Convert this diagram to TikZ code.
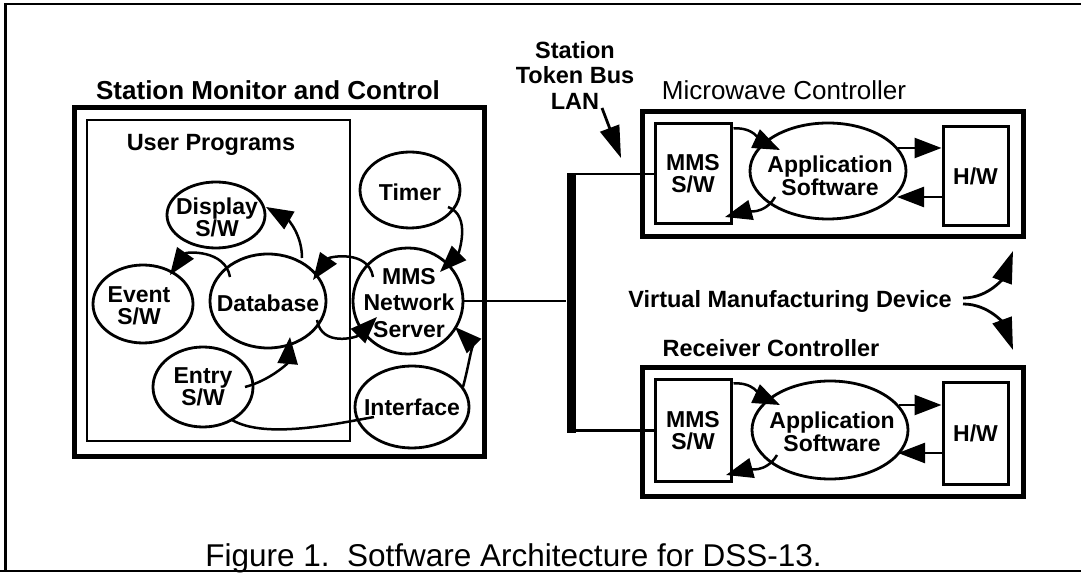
\documentclass[tikz,border=0pt]{standalone}
\usepackage{fontspec}
\setmainfont{Liberation Sans}
\usetikzlibrary{shapes.geometric,arrows.meta,calc}
\tikzset{
  bighead/.tip={Triangle[length=27pt,width=20pt]},
  hugehead/.tip={Triangle[length=32pt,width=20pt]}
}
\begin{document}
\begin{tikzpicture}[x=1pt,y=1pt,
  ell/.style={draw, ellipse, line width=2.8pt, inner sep=0pt},
  lbl/.style={font=\fontsize{23}{22}\selectfont\bfseries, align=center, inner sep=0pt},
  bigtitle/.style={font=\fontsize{26}{26}\selectfont\bfseries, inner sep=0pt, anchor=base},
  boldlbl/.style={font=\fontsize{23.5}{23.5}\selectfont\bfseries, inner sep=0pt, anchor=base},
  outerbox/.style={draw, rectangle, line width=5pt, inner sep=0pt},
  innerbox/.style={draw, rectangle, line width=3pt, inner sep=0pt},
  arr/.style={line width=2.5pt, arrows={-bighead}},
  bigarr/.style={line width=2.8pt, arrows={-hugehead}},
  wire/.style={line width=2.5pt}
]
\useasboundingbox (0,0) rectangle (1081,573);

% frame
\coordinate (f-tl) at (5.5,569);
\coordinate (f-bl) at (5.5,2);
\coordinate (f-tr) at (1081,569);
\coordinate (f-b0) at (0,2);
\coordinate (f-br) at (1081,2);
\draw[line width=2.2pt] (f-tr) -- (f-tl) -- (f-bl);
\draw[line width=2.2pt] (f-b0) -- (f-br);

% Station Monitor and Control
\node[bigtitle] (smc-t) at (268,473.6) {Station Monitor and Control};
\node[outerbox, minimum width=410, minimum height=349] (smc) at (279,290.5) {};
\node[draw, line width=2.6pt, minimum width=263, minimum height=321, inner sep=0pt] (up) at (218.5,292.5) {};
\node[boldlbl] (up-t) at (211,422.5) {User Programs};

\node[ell, minimum width=100, minimum height=76] (tm) at (410,383) {};
\node[ell, minimum width=98, minimum height=66] (disp) at (216,358) {};
\node[ell, minimum width=100, minimum height=78] (ev) at (143,269) {};
\node[ell, minimum width=116, minimum height=94] (db) at (268,272) {};
\node[ell, minimum width=100, minimum height=80] (en) at (203,186) {};
\node[ell, minimum width=110, minimum height=106] (srv) at (408,272) {};
\node[ell, minimum width=114, minimum height=82] (if) at (412,166) {};

\node[lbl] (tm-t) at (410,381) {Timer};
\node[lbl] (disp-t) at (217,356) {Display\\S/W};
\node[lbl] (ev-t) at (139,267) {Event\\S/W};
\node[lbl] (db-t) at (268,270) {Database};
\node[lbl] (en-t) at (203,186) {Entry\\S/W};
\node[lbl, font=\fontsize{23}{26.5}\selectfont\bfseries] (srv-t) at (409,270) {MMS\\Network\\Server};
\node[lbl] (if-t) at (412,166) {Interface};

\draw[arr] ($(db)+(34,43)$) to[out=90,in=-30] ($(disp)+(50,8)$);
\draw[arr] ($(db)+(-38,24)$) to[out=100,in=55,looseness=1.2] ($(ev)+(27,29)$);
\draw[arr] ($(srv)+(-35,24)$) to[out=100,in=55,looseness=1.2] ($(db)+(45,21)$);
\draw[arr] ($(db)+(49,-19)$) to[out=-80,in=-135,looseness=1.2] ($(srv)+(-31,-16)$);
\draw[arr] ($(en)+(42,0)$) to[out=15,in=-95] ($(db)+(22,-36)$);
\draw[wire] ($(en)+(29,-33)$) to[out=-30,in=190,looseness=0.7] ($(if)+(-38,-10)$);
\draw[arr] ($(tm)+(38,-17)$) to[out=-20,in=45] ($(srv)+(32,29)$);
\draw[arr] ($(if)+(51,20)$) to[out=75,in=-45] ($(srv)+(47,-26)$);

% bus
\node[fill, inner sep=0pt, minimum width=9, minimum height=260] (bus) at (571,270) {};
\draw[wire] (srv.east) -- (srv.east -| bus.west);

\node[lbl, font=\fontsize{23.5}{25.5}\selectfont\bfseries] (lan) at (575,498) {Station\\Token Bus\\LAN};
\coordinate (lan-s) at (602,465);
\coordinate (lan-e) at (621,415);
\draw[bigarr] (lan-s) -- (lan-e);

% Microwave Controller
\node[font=\fontsize{26}{26}\selectfont, inner sep=0pt, anchor=base] (mc-t) at (784,473.6) {Microwave Controller};
\node[outerbox, minimum width=381, minimum height=125] (mc) at (832.5,398.5) {};
\node[innerbox, lbl, minimum width=76, minimum height=100] (mmsM) at (693,399) {MMS\\S/W};
\node[ell, minimum width=156, minimum height=96] (appM) at (828,402) {};
\node[lbl, font=\fontsize{23}{23}\selectfont\bfseries] (appM-t) at (830,397) {Application\\Software};
\node[innerbox, lbl, minimum width=65, minimum height=99] (hwM) at (975.5,396.5) {H/W};
\draw[wire] (bus.east |- mmsM.west) -- (mmsM.west);
\draw[arr] ($(mmsM.north east)+(1,-6)$) to[out=5,in=155] ($(appM)+(-48,21)$);
\draw[arr] ($(appM)+(70,23)$) -- ($(hwM.west)+(0,28.5)$);
\draw[arr] ($(hwM.west)+(0,-20.5)$) -- ($(appM)+(69,-26)$);
\draw[arr] ($(appM)+(-53,-26)$) to[out=-120,in=15] ($(mmsM)+(32,-43)$);

% Virtual Manufacturing Device
\node[boldlbl, anchor=base east] (vmd) at (952,265) {Virtual Manufacturing Device};
\draw[bigarr] ($(vmd.base east)+(11,10)$) to[out=0,in=-110] ($(vmd.base east)+(61,57)$);
\draw[bigarr] ($(vmd.base east)+(11,4)$) to[out=0,in=110] ($(vmd.base east)+(61,-42)$);

% Receiver Controller
\node[boldlbl] (rc-t) at (771,216.5) {Receiver Controller};
\node[outerbox, minimum width=381, minimum height=128] (rc) at (832.5,141) {};
\node[innerbox, lbl, minimum width=76, minimum height=101] (mmsR) at (693,142.5) {MMS\\S/W};
\node[ell, minimum width=156, minimum height=98] (appR) at (830,143) {};
\node[lbl, font=\fontsize{23}{23}\selectfont\bfseries] (appR-t) at (832,141) {Application\\Software};
\node[innerbox, lbl, minimum width=65, minimum height=101] (hwR) at (975.5,139.5) {H/W};
\draw[wire] (bus.east |- mmsR.west) -- (mmsR.west);
\draw[arr] ($(mmsR.north east)+(1,-5)$) to[out=5,in=155] ($(appR)+(-50,25)$);
\draw[arr] ($(appR)+(69,25)$) -- ($(hwR.west)+(0,28.5)$);
\draw[arr] ($(hwR.west)+(0,-19.5)$) -- ($(appR)+(68,-23)$);
\draw[arr] ($(appR)+(-53,-25)$) to[out=-120,in=15] ($(mmsR)+(33,-44.5)$);

% caption
\node[font=\fontsize{31.5}{31.5}\selectfont, inner sep=0pt, anchor=base] (cap) at (513.5,7) {Figure 1.\ \ Sotfware Architecture for DSS-13.};
\end{tikzpicture}
\end{document}
